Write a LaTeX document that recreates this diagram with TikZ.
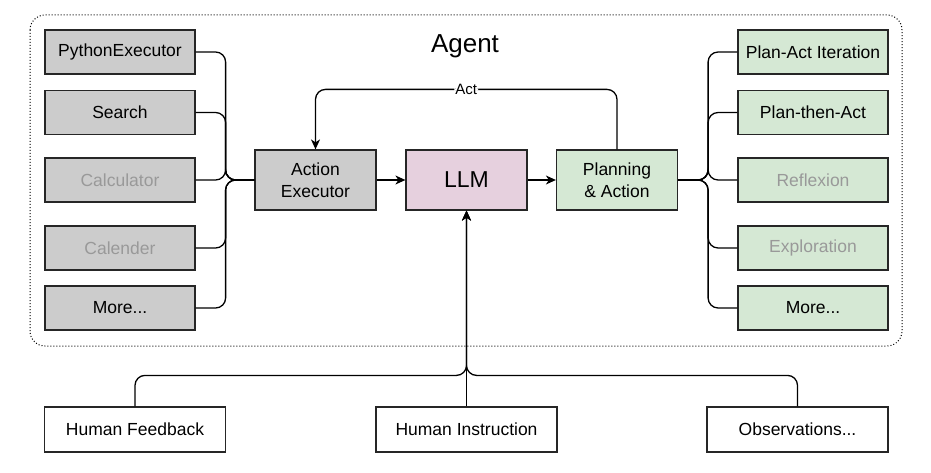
\documentclass[tikz,border=0pt]{standalone}
\usepackage{fontspec}
\setmainfont{Liberation Sans}
\usetikzlibrary{arrows.meta, positioning}

\definecolor{toolgray}{HTML}{CCCCCC}
\definecolor{plangreen}{HTML}{D5E8D4}
\definecolor{llmpink}{HTML}{E6D0DE}
\definecolor{dimtext}{HTML}{999999}

\begin{document}
\begin{tikzpicture}[
    x=1pt, y=-1pt,
    every node/.style={font=\fontsize{17.5}{21.5}\selectfont},
    tool/.style={rectangle, draw=black!85, line width=1.2pt, fill=toolgray, minimum width=150pt, minimum height=44pt, inner sep=0pt},
    plan/.style={tool, fill=plangreen},
    core/.style={rectangle, draw=black!85, line width=1.2pt, align=center, minimum width=121pt, minimum height=60pt, inner sep=0pt},
    source/.style={rectangle, draw=black!85, line width=1.2pt, fill=white, minimum width=181pt, minimum height=45pt, inner sep=0pt},
    dim/.style={text=dimtext},
    link/.style={line width=1.3pt, rounded corners=10pt},
    arrow/.style={link, -{Stealth[length=10pt, width=9pt, inset=3pt]}}
]
\useasboundingbox (0,0) rectangle (931,473);

% agent frame
\draw[line width=1pt, dash pattern=on 1pt off 2pt, rounded corners=15pt] (30,15) rectangle (902,346);
\node[font=\fontsize{26}{30}\selectfont] (agent) at (465,46) {Agent};

% tools
\node[tool] (python) at (120,52) {PythonExecutor};
\node[tool] (search) at (120,112.5) {Search};
\node[tool, dim] (calc) at (120,180) {Calculator};
\node[tool, dim] (cal) at (120,248) {Calender};
\node[tool] (moretool) at (120,308) {More...};

% core
\node[core, fill=toolgray] (exec) at (315.5,180) {Action\\Executor};
\node[core, fill=llmpink, font=\fontsize{23}{27}\selectfont] (llm) at (466.5,180) {LLM};
\node[core, fill=plangreen] (planact) at (617,180) {Planning\\\& Action};

% planning methods
\node[plan] (iter) at (813,52) {Plan-Act Iteration};
\node[plan] (then) at (813,112.5) {Plan-then-Act};
\node[plan, dim] (reflex) at (813,180) {Reflexion};
\node[plan, dim] (explore) at (813,248) {Exploration};
\node[plan] (moreplan) at (813,308) {More...};

% inputs
\node[source] (feedback) at (135,429.5) {Human Feedback};
\node[source] (instr) at (466.5,429.5) {Human Instruction};
\node[source] (obs) at (797.5,429.5) {Observations...};

% tools -> executor
\foreach \t in {python, search, calc, cal, moretool}
    \draw[link] (\t.east) -- ++(30,0) |- (exec.west);

% planning -> methods
\foreach \m in {iter, then, reflex, explore, moreplan}
    \draw[link] (planact.east) -- ++(30,0) |- (\m.west);

\draw[arrow] (exec) -- (llm);
\draw[arrow] (llm) -- (planact);

\draw[arrow] (planact.north) -- ++(0,-60) -| node[pos=0.25, fill=white, inner sep=1pt, font=\fontsize{15}{18}\selectfont] (actlabel) {Act} (exec.north);

% inputs -> llm
\draw[arrow] (instr.north) -- (llm.south);
\draw[arrow] (feedback.north) -- ++(0,-31) -| (llm.south);
\draw[arrow] (obs.north) -- ++(0,-31) -| (llm.south);

\end{tikzpicture}
\end{document}
